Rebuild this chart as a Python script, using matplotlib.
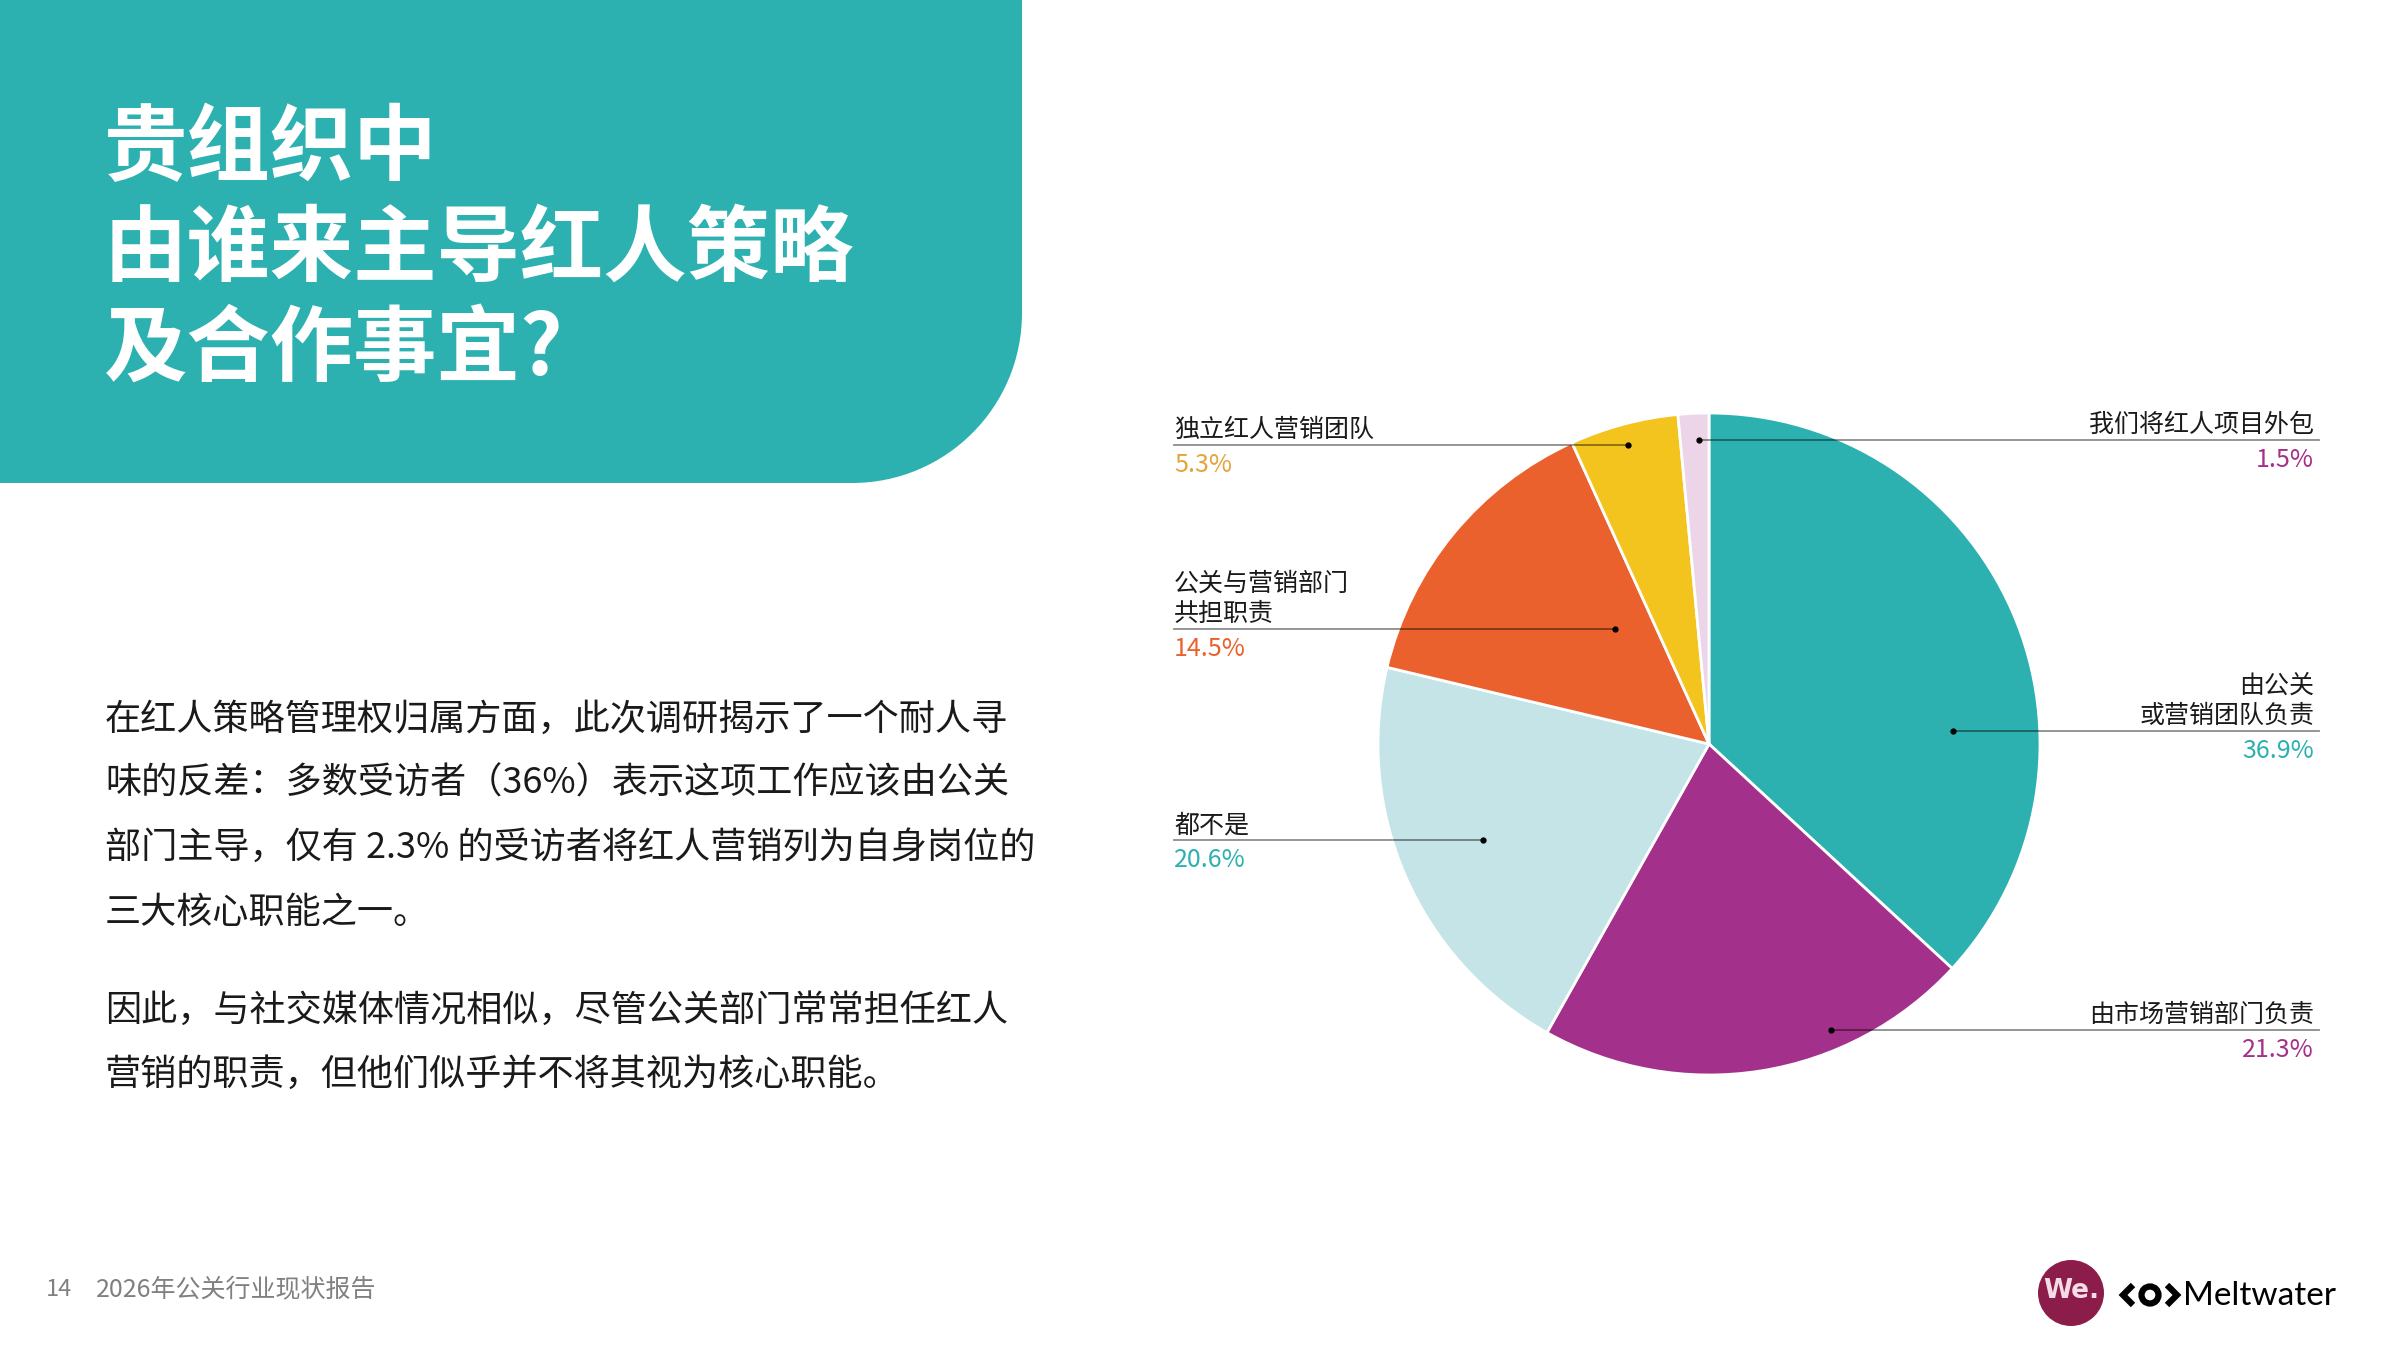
import matplotlib
matplotlib.use("Agg")
import matplotlib.pyplot as plt
from matplotlib.path import Path
from matplotlib.patches import PathPatch, Circle

plt.rcParams['font.family'] = ['Noto Sans CJK SC', 'DejaVu Sans']

# data
labels = ["由公关\n或营销团队负责", "由市场营销部门负责", "都不是",
          "公关与营销部门\n共担职责", "独立红人营销团队", "我们将红人项目外包"]
values = [36.9, 21.3, 20.6, 14.5, 5.3, 1.5]
colors = ["#2cb1b0", "#a3318b", "#c5e4e7", "#eb612e", "#f3c41e", "#ecd5e8"]
pct_colors = ["#2cb1b0", "#a3318b", "#2cb1b0", "#eb612e", "#e3a43c", "#a3318b"]

title_lines = ["贵组织中", "由谁来主导红人策略", "及合作事宜?"]
body_lines = [
    "在红人策略管理权归属方面，此次调研揭示了一个耐人寻",
    "味的反差：多数受访者（36%）表示这项工作应该由公关",
    "部门主导，仅有 2.3% 的受访者将红人营销列为自身岗位的",
    "三大核心职能之一。",
    "因此，与社交媒体情况相似，尽管公关部门常常担任红人",
    "营销的职责，但他们似乎并不将其视为核心职能。",
]
footer_page = "14"
footer_text = "2026年公关行业现状报告"

# label layout in image pixels (y from top): side, line y, dot x
label_layout = [
    ("right", 731, 1953),
    ("right", 1030, 1831),
    ("left", 840, 1483),
    ("left", 629, 1615),
    ("left", 445, 1628),
    ("right", 440, 1699),
]

W, H = 2400, 1350


def Y(y):
    # image y (from top) -> data y
    return H - y


fig = plt.figure(figsize=(24, 13.5), dpi=100)
ax = fig.add_axes([0, 0, 1, 1])

# teal banner with rounded lower-right corner
bx, by, r, k = 1022, Y(483), 170, 0.5523
verts = [(0, H), (bx, H), (bx, by + r),
         (bx, by + r - k * r), (bx - r + k * r, by), (bx - r, by),
         (0, by), (0, H)]
codes = [Path.MOVETO, Path.LINETO, Path.LINETO,
         Path.CURVE4, Path.CURVE4, Path.CURVE4,
         Path.LINETO, Path.CLOSEPOLY]
ax.add_patch(PathPatch(Path(verts, codes), facecolor="#2db1b0", edgecolor="none"))

for i, line in enumerate(title_lines):
    ax.text(104, Y(150 + i * 100), line, fontsize=60, fontweight="bold",
            color="white", va="center", ha="left")

body_y = [720, 784, 848, 913, 1011, 1075]
for line, yy in zip(body_lines, body_y):
    ax.text(105, Y(yy), line, fontsize=26, color="#1a1a1a", va="center", ha="left")

# pie
ax.pie(values, colors=colors, startangle=90, counterclock=False,
       center=(1709, Y(744)), radius=331, frame=True,
       wedgeprops=dict(edgecolor="white", linewidth=2))

for lab, val, pc, (side, ly, dx) in zip(labels, values, pct_colors, label_layout):
    n = lab.count("\n") + 1
    if side == "left":
        x0, x1, tx, ha = 1174, dx, 1174, "left"
    else:
        x0, x1, tx, ha = dx, 2319, 2314, "right"
    ax.plot([x0, x1], [Y(ly), Y(ly)], color="black", alpha=0.45, lw=1.3)
    ax.plot(dx, Y(ly), "o", color="black", ms=3.5)
    for j, part in enumerate(lab.split("\n")):
        ax.text(tx, Y(ly - 15 - 30 * (n - 1 - j)), part, fontsize=18,
                color="#1a1a1a", ha=ha, va="center")
    ax.text(tx, Y(ly + 20), f"{val}%", fontsize=18, color=pc, ha=ha, va="center")

# footer
ax.text(46, Y(1290), footer_page, fontsize=17, color="#808080", va="center")
ax.text(96, Y(1290), footer_text, fontsize=18, color="#808080", va="center")

# logos
ax.add_patch(Circle((2071, Y(1293)), 33, facecolor="#8c1d4b", edgecolor="none"))
ax.text(2071, Y(1291), "We.", fontsize=19, fontweight="bold", color="#f3dce4",
        ha="center", va="center", family="DejaVu Sans")
cy = Y(1295)
ax.plot([2133, 2123, 2133], [cy + 10, cy, cy - 10], color="black", lw=4.5,
        solid_capstyle="butt", solid_joinstyle="miter")
ax.add_patch(Circle((2150, cy), 8.5, facecolor="none", edgecolor="black", lw=4.5))
ax.plot([2167, 2177, 2167], [cy + 10, cy, cy - 10], color="black", lw=4.5,
        solid_capstyle="butt", solid_joinstyle="miter")
ax.text(2183, Y(1296), "Meltwater", fontsize=24, color="black", ha="left",
        va="center", family="Lato")

ax.set_xlim(0, W)
ax.set_ylim(0, H)
ax.axis("off")

fig.savefig("out.png", dpi=100, facecolor="white")
